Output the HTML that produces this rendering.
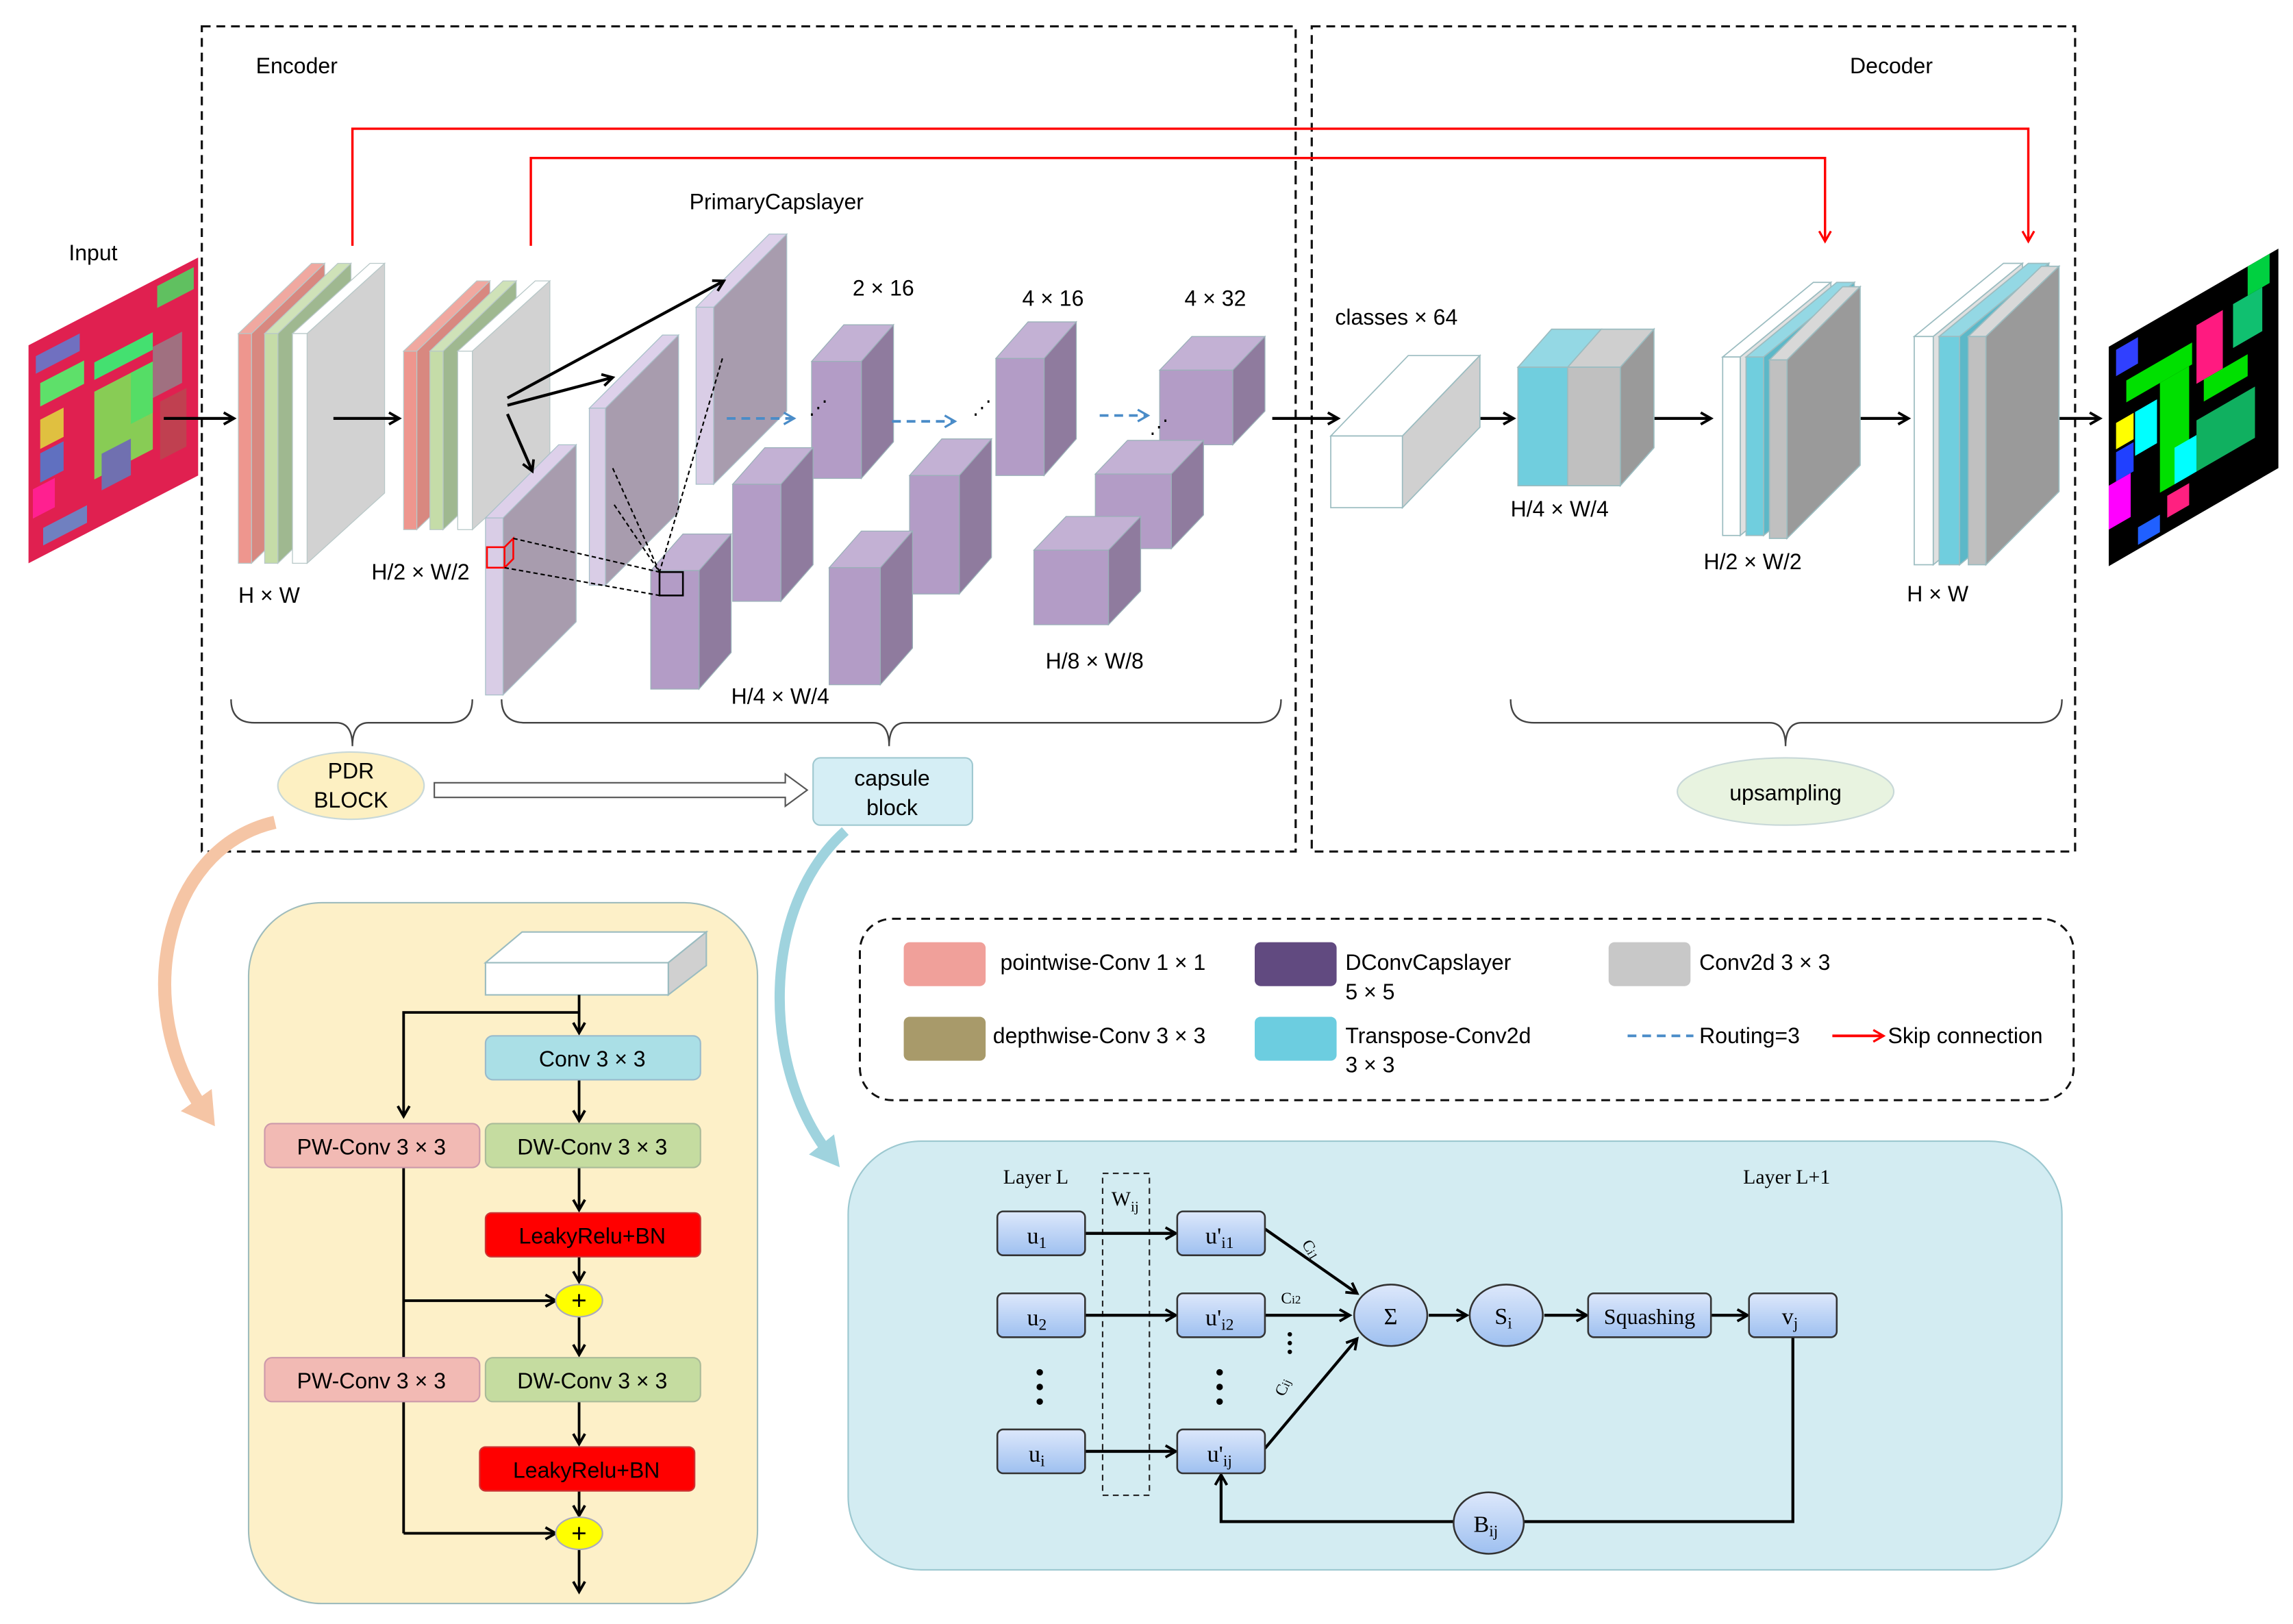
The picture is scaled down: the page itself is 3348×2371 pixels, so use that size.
<!DOCTYPE html>
<html><head><meta charset="utf-8"><style>html,body{margin:0;padding:0;background:#fff}svg{display:block}text{font-family:"Liberation Sans",sans-serif}.s{font-family:"Liberation Serif",serif}</style></head><body>
<svg width="3348" height="2371" viewBox="0 0 1568 1110" preserveAspectRatio="none" xmlns="http://www.w3.org/2000/svg">
<defs>
<marker id="ab" markerWidth="10" markerHeight="10" refX="8" refY="5" orient="auto" markerUnits="userSpaceOnUse"><path d="M1,1 L8,5 L1,9" fill="none" stroke="#000" stroke-width="1.8"/></marker>
<marker id="ar" markerWidth="10" markerHeight="12" refX="8" refY="5" orient="auto" markerUnits="userSpaceOnUse"><path d="M1,1 L8,5 L1,9" fill="none" stroke="#f00" stroke-width="1.5"/></marker>
<marker id="abl" markerWidth="10" markerHeight="10" refX="8" refY="5" orient="auto" markerUnits="userSpaceOnUse"><path d="M1,1 L8,5 L1,9" fill="none" stroke="#4a8cc8" stroke-width="1.5"/></marker>
<linearGradient id="bg" x1="0" y1="0" x2="0" y2="1"><stop offset="0" stop-color="#dde8fb"/><stop offset="1" stop-color="#9ec0f0"/></linearGradient>
<marker id="peach" markerWidth="30" markerHeight="30" refX="10" refY="15" orient="auto" markerUnits="userSpaceOnUse"><path d="M0,2 L22,15 L0,28 Z" fill="#f5c5a5"/></marker>
<marker id="teal" markerWidth="30" markerHeight="30" refX="10" refY="15" orient="auto" markerUnits="userSpaceOnUse"><path d="M0,4 L20,15 L0,26 Z" fill="#9fd3de"/></marker>
</defs>

<rect x="138" y="18" width="748" height="564" fill="none" stroke="#111" stroke-width="1.5" stroke-dasharray="6,4"/>
<rect x="897" y="18" width="522" height="564" fill="none" stroke="#111" stroke-width="1.5" stroke-dasharray="6,4"/>
<text x="175" y="50" font-size="15">Encoder</text>
<text x="1265" y="50" font-size="15">Decoder</text>
<text x="47" y="178" font-size="15">Input</text>

<g transform="matrix(1,-0.517,0,1,19.5,236)">
<rect x="0" y="0" width="116" height="149" fill="#e02050"/>
<rect x="8" y="30" width="30" height="16" fill="#5ee06a"/>
<rect x="45" y="35" width="40" height="12" fill="#44e070"/>
<rect x="45" y="55" width="40" height="60" fill="#88cc55"/>
<rect x="85" y="45" width="20" height="35" fill="#a07080"/>
<rect x="90" y="85" width="18" height="40" fill="#c04050"/>
<rect x="70" y="55" width="15" height="35" fill="#55dd66"/>
<rect x="8" y="55" width="16" height="20" fill="#e0c040"/>
<rect x="8" y="78" width="16" height="20" fill="#6070c0"/>
<rect x="5" y="10" width="30" height="12" fill="#7070c0"/>
<rect x="50" y="100" width="20" height="25" fill="#7070b0"/>
<rect x="3" y="100" width="15" height="20" fill="#ff2090"/>
<rect x="10" y="130" width="30" height="12" fill="#7080c0"/>
<rect x="88" y="5" width="25" height="15" fill="#60c060"/>
</g>
<g transform="matrix(1,-0.578,0,1,1442,237)">
<rect x="0" y="0" width="116" height="150" fill="#000"/>
<rect x="12" y="30" width="45" height="15" fill="#00e000"/>
<rect x="35" y="45" width="20" height="75" fill="#00e000"/>
<rect x="60" y="20" width="18" height="40" fill="#ff1a80"/>
<rect x="5" y="55" width="12" height="18" fill="#ffff00"/>
<rect x="18" y="55" width="15" height="30" fill="#00ffff"/>
<rect x="5" y="75" width="12" height="20" fill="#2040ff"/>
<rect x="0" y="95" width="15" height="30" fill="#ff00ff"/>
<rect x="65" y="60" width="30" height="15" fill="#00e000"/>
<rect x="60" y="85" width="40" height="35" fill="#10b060"/>
<rect x="85" y="20" width="20" height="30" fill="#10c070"/>
<rect x="95" y="0" width="15" height="20" fill="#00d040"/>
<rect x="5" y="5" width="15" height="18" fill="#3040ff"/>
<rect x="40" y="125" width="15" height="15" fill="#ff2080"/>
<rect x="20" y="135" width="15" height="12" fill="#2060ff"/>
<rect x="45" y="95" width="15" height="25" fill="#00ffff"/>
</g>

<polyline points="241,168 241,88 1387,88 1387,165" fill="none" stroke="#f00" stroke-width="1.6" marker-end="url(#ar)"/>
<polyline points="363,168 363,108 1248,108 1248,165" fill="none" stroke="#f00" stroke-width="1.6" marker-end="url(#ar)"/>

<g stroke="#b8c8c8" stroke-width="0.6">
<polygon points="172,228 222,180 222,337 172,385" fill="#d88880"/><polygon points="163,228 213,180 222,180 172,228" fill="#f0a8a0"/><rect x="163" y="228" width="9" height="157" fill="#ee968e"/>
<polygon points="190,228 240,180 240,337 190,385" fill="#9fb890"/><polygon points="181,228 231,180 240,180 190,228" fill="#cfe2b8"/><rect x="181" y="228" width="9" height="157" fill="#c5dca8"/>
<polygon points="210,228 263,180 263,337 210,385" fill="#d2d2d2"/><polygon points="200,228 253,180 263,180 210,228" fill="#fff"/><rect x="200" y="228" width="10" height="157" fill="#fff"/>
</g>
<g stroke="#b8c8c8" stroke-width="0.6">
<polygon points="285,240 335,192 335,314 285,362" fill="#d88880"/><polygon points="276,240 326,192 335,192 285,240" fill="#f0a8a0"/><rect x="276" y="240" width="9" height="122" fill="#ee968e"/>
<polygon points="303,240 353,192 353,314 303,362" fill="#9fb890"/><polygon points="294,240 344,192 353,192 303,240" fill="#cfe2b8"/><rect x="294" y="240" width="9" height="122" fill="#c5dca8"/>
<polygon points="323,240 376,192 376,314 323,362" fill="#d2d2d2"/><polygon points="313,240 366,192 376,192 323,240" fill="#fff"/><rect x="313" y="240" width="10" height="122" fill="#fff"/>
</g>
<text x="163" y="412" font-size="15">H × W</text>
<text x="254" y="396" font-size="15">H/2 × W/2</text>

<g stroke="#a8c0c8" stroke-width="0.6">
<polygon points="488,210 538,160 538,281 488,331" fill="#a89cae"/><polygon points="476,210 526,160 538,160 488,210" fill="#ddd0ea"/><rect x="476" y="210" width="12" height="121" fill="#d9cde6"/>
<polygon points="414,279 464,229 464,350 414,400" fill="#a89cae"/><polygon points="403,279 453,229 464,229 414,279" fill="#ddd0ea"/><rect x="403" y="279" width="11" height="121" fill="#d9cde6"/>
<polygon points="344,354 394,304 394,425 344,475" fill="#a89cae"/><polygon points="332,354 382,304 394,304 344,354" fill="#ddd0ea"/><rect x="332" y="354" width="12" height="121" fill="#d9cde6"/>
</g>
<text x="531" y="143" font-size="15" text-anchor="middle">PrimaryCapslayer</text>

<g stroke="#9ab0b8" stroke-width="0.6">
<polygon points="555,247 577,222 611,222 589,247" fill="#c3b1d4"/><polygon points="589,247 611,222 611,302 589,327" fill="#8f7b9e"/><rect x="555" y="247" width="34" height="80" fill="#b39cc6"/>
<polygon points="681,245 703,220 736,220 714,245" fill="#c3b1d4"/><polygon points="714,245 736,220 736,300 714,325" fill="#8f7b9e"/><rect x="681" y="245" width="33" height="80" fill="#b39cc6"/>
<polygon points="793,253 815,230 865,230 843,253" fill="#c3b1d4"/><polygon points="843,253 865,230 865,281 843,304" fill="#8f7b9e"/><rect x="793" y="253" width="50" height="51" fill="#b39cc6"/>
<polygon points="501,331 523,306 556,306 534,331" fill="#c3b1d4"/><polygon points="534,331 556,306 556,386 534,411" fill="#8f7b9e"/><rect x="501" y="331" width="33" height="80" fill="#b39cc6"/>
<polygon points="622,325 644,300 678,300 656,325" fill="#c3b1d4"/><polygon points="656,325 678,300 678,381 656,406" fill="#8f7b9e"/><rect x="622" y="325" width="34" height="81" fill="#b39cc6"/>
<polygon points="749,324 771,301 823,301 801,324" fill="#c3b1d4"/><polygon points="801,324 823,301 823,352 801,375" fill="#8f7b9e"/><rect x="749" y="324" width="52" height="51" fill="#b39cc6"/>
<polygon points="445,390 467,365 500,365 478,390" fill="#c3b1d4"/><polygon points="478,390 500,365 500,446 478,471" fill="#8f7b9e"/><rect x="445" y="390" width="33" height="81" fill="#b39cc6"/>
<polygon points="567,388 589,363 624,363 602,388" fill="#c3b1d4"/><polygon points="602,388 624,363 624,443 602,468" fill="#8f7b9e"/><rect x="567" y="388" width="35" height="80" fill="#b39cc6"/>
<polygon points="707,376 729,353 780,353 758,376" fill="#c3b1d4"/><polygon points="758,376 780,353 780,404 758,427" fill="#8f7b9e"/><rect x="707" y="376" width="51" height="51" fill="#b39cc6"/>
</g>
<rect x="333" y="374" width="12" height="14" fill="none" stroke="#f00" stroke-width="1.2"/>
<polyline points="345,374 351,368 351,382 345,388" fill="none" stroke="#f00" stroke-width="1.2"/>
<rect x="451" y="391" width="16" height="16" fill="none" stroke="#000" stroke-width="1.2"/>
<g stroke="#000" stroke-width="1" stroke-dasharray="3,2" fill="none">
<line x1="351" y1="368" x2="451" y2="391"/><line x1="345" y1="388" x2="451" y2="407"/>
<line x1="419" y1="320" x2="451" y2="391"/><line x1="420" y1="345" x2="451" y2="391"/>
<line x1="494" y1="245" x2="451" y2="391"/>
</g>
<g stroke="#000" stroke-width="2" fill="none" marker-end="url(#ab)">
<line x1="347" y1="272" x2="495" y2="192"/>
<line x1="347" y1="277" x2="419" y2="258"/>
<line x1="347" y1="283" x2="364" y2="322"/>
</g>
<g stroke="#4a8cc8" stroke-width="1.8" stroke-dasharray="6,4" fill="none" marker-end="url(#abl)">
<line x1="497" y1="286" x2="543" y2="286"/><line x1="610" y1="288" x2="653" y2="288"/><line x1="752" y1="284" x2="785" y2="284"/>
</g>
<text x="553" y="283" font-size="13">⋰</text><text x="665" y="283" font-size="13">⋰</text><text x="786" y="296" font-size="13">⋰</text>
<text x="583" y="202" font-size="15">2 × 16</text>
<text x="699" y="209" font-size="15">4 × 16</text>
<text x="810" y="209" font-size="15">4 × 32</text>
<text x="500" y="481" font-size="15">H/4 × W/4</text>
<text x="715" y="457" font-size="15">H/8 × W/8</text>

<g stroke="#000" stroke-width="2" fill="none" marker-end="url(#ab)">
<line x1="112" y1="286" x2="160" y2="286"/><line x1="228" y1="286" x2="273" y2="286"/>
<line x1="870" y1="286" x2="915" y2="286"/><line x1="990" y1="286" x2="1035" y2="286"/>
<line x1="1125" y1="286" x2="1170" y2="286"/><line x1="1260" y1="286" x2="1305" y2="286"/>
<line x1="1390" y1="286" x2="1436" y2="286"/>
</g>

<g stroke="#9bbcc0" stroke-width="0.8">
<polygon points="910,298 963,243 1012,243 959,298" fill="#fff"/><polygon points="959,298 1012,243 1012,292 959,347" fill="#d0d0d0"/><rect x="910" y="298" width="49" height="49" fill="#fff"/>
<polygon points="1038,251 1061,225 1095,225 1072,251" fill="#94d8e4"/><rect x="1038" y="251" width="34" height="81" fill="#70cede"/>
<polygon points="1072,251 1095,225 1131,225 1108,251" fill="#cfcfcf"/><polygon points="1108,251 1131,225 1131,306 1108,332" fill="#9a9a9a"/><rect x="1072" y="251" width="36" height="81" fill="#c0c0c0"/>
</g>
<text x="913" y="222" font-size="15">classes × 64</text>
<text x="1033" y="353" font-size="15">H/4 × W/4</text>
<g stroke="#9bbcc0" stroke-width="0.8">
<polygon points="1178,244 1240,193 1252,193 1190,244" fill="#fff"/><polygon points="1190,244 1252,193 1252,315 1190,366" fill="#e0e0e0"/><rect x="1178" y="244" width="12" height="122" fill="#fff"/>
<polygon points="1194,244 1256,193 1268,193 1206,244" fill="#94d8e4"/><polygon points="1206,244 1268,193 1268,315 1206,366" fill="#5cb8c8"/><rect x="1194" y="244" width="12" height="122" fill="#70cede"/>
<polygon points="1210,246 1260,196 1272,196 1222,246" fill="#d8d8d8"/><polygon points="1222,246 1272,196 1272,318 1222,368" fill="#9a9a9a"/><rect x="1210" y="246" width="12" height="122" fill="#c0c0c0"/>
</g>
<text x="1165" y="389" font-size="15">H/2 × W/2</text>
<g stroke="#9bbcc0" stroke-width="0.8">
<polygon points="1309,230 1370,180 1383,180 1322,230" fill="#fff"/><polygon points="1322,230 1383,180 1383,336 1322,386" fill="#e0e0e0"/><rect x="1309" y="230" width="13" height="156" fill="#fff"/>
<polygon points="1326,230 1387,180 1401,180 1340,230" fill="#94d8e4"/><polygon points="1340,230 1401,180 1401,336 1340,386" fill="#5cb8c8"/><rect x="1326" y="230" width="14" height="156" fill="#70cede"/>
<polygon points="1346,230 1396,182 1408,182 1358,230" fill="#d8d8d8"/><polygon points="1358,230 1408,182 1408,336 1358,386" fill="#9a9a9a"/><rect x="1346" y="230" width="12" height="156" fill="#c0c0c0"/>
</g>
<text x="1304" y="411" font-size="15">H × W</text>

<g stroke="#444" stroke-width="1.1" fill="none">
<path d="M158,478 Q158,494 174,494 L230,494 Q241,494 241,510 Q241,494 252,494 L307,494 Q323,494 323,478"/>
<path d="M343,478 Q343,494 359,494 L597,494 Q608,494 608,510 Q608,494 619,494 L860,494 Q876,494 876,478"/>
<path d="M1033,478 Q1033,494 1049,494 L1210,494 Q1221,494 1221,510 Q1221,494 1232,494 L1394,494 Q1410,494 1410,478"/>
</g>
<ellipse cx="240" cy="537" rx="50" ry="23" fill="#fdf0c2" stroke="#c8d8d8"/>
<text x="240" y="532" font-size="15" text-anchor="middle">PDR</text><text x="240" y="552" font-size="15" text-anchor="middle">BLOCK</text>
<rect x="556" y="518" width="109" height="46" rx="5" fill="#d5eef5" stroke="#9fc8d0"/>
<text x="610" y="537" font-size="15" text-anchor="middle">capsule</text><text x="610" y="557" font-size="15" text-anchor="middle">block</text>
<ellipse cx="1221" cy="541" rx="74" ry="23" fill="#e8f3e0" stroke="#c8d8d8"/>
<text x="1221" y="547" font-size="15" text-anchor="middle">upsampling</text>
<polygon points="297,535 537,535 537,529 552,540 537,551 537,545 297,545" fill="#fff" stroke="#555" stroke-width="1"/>

<path d="M188,562 C110,580 90,690 140,760" fill="none" stroke="#f5c5a5" stroke-width="9" marker-end="url(#peach)"/>
<path d="M578,568 C520,620 520,730 568,790" fill="none" stroke="#9fd3de" stroke-width="7" marker-end="url(#teal)"/>

<rect x="170" y="617" width="348" height="479" rx="50" fill="#fdf0c8" stroke="#9fbcbc"/>
<polygon points="332,658 357,637 483,637 457,658" fill="#fff" stroke="#9bbcc0"/>
<polygon points="457,658 483,637 483,660 457,680" fill="#d0d0d0" stroke="#9bbcc0"/>
<rect x="332" y="658" width="125" height="22" fill="#fff" stroke="#9bbcc0"/>
<g stroke="#000" stroke-width="1.8" fill="none">
<line x1="396" y1="680" x2="396" y2="706" marker-end="url(#ab)"/>
<polyline points="396,692 276,692 276,763" marker-end="url(#ab)"/>
<line x1="396" y1="738" x2="396" y2="766" marker-end="url(#ab)"/>
<line x1="396" y1="798" x2="396" y2="827" marker-end="url(#ab)"/>
<line x1="396" y1="859" x2="396" y2="876" marker-end="url(#ab)"/>
<line x1="276" y1="798" x2="276" y2="1048"/>
<line x1="276" y1="889" x2="380" y2="889" marker-end="url(#ab)"/>
<line x1="276" y1="1048" x2="380" y2="1048" marker-end="url(#ab)"/>
<line x1="396" y1="900" x2="396" y2="926" marker-end="url(#ab)"/>
<line x1="396" y1="958" x2="396" y2="987" marker-end="url(#ab)"/>
<line x1="396" y1="1019" x2="396" y2="1036" marker-end="url(#ab)"/>
<line x1="396" y1="1059" x2="396" y2="1088" marker-end="url(#ab)"/>
</g>
<rect x="332" y="708" width="147" height="30" rx="5" fill="#aadfe6" stroke="#9bc"/>
<text x="405" y="729" font-size="15" text-anchor="middle">Conv 3 × 3</text>
<rect x="181" y="768" width="147" height="30" rx="5" fill="#f2bab4" stroke="#c9a"/>
<text x="254" y="789" font-size="15" text-anchor="middle">PW-Conv 3 × 3</text>
<rect x="332" y="768" width="147" height="30" rx="5" fill="#c5dca0" stroke="#ab9"/>
<text x="405" y="789" font-size="15" text-anchor="middle">DW-Conv 3 × 3</text>
<rect x="332" y="829" width="147" height="30" rx="4" fill="#ff0000" stroke="#c33"/>
<text x="405" y="850" font-size="15" text-anchor="middle">LeakyRelu+BN</text>
<ellipse cx="396" cy="889" rx="16" ry="11" fill="#ffff00" stroke="#aab"/>
<text x="396" y="895" font-size="18" text-anchor="middle">+</text>
<rect x="181" y="928" width="147" height="30" rx="5" fill="#f2bab4" stroke="#c9a"/>
<text x="254" y="949" font-size="15" text-anchor="middle">PW-Conv 3 × 3</text>
<rect x="332" y="928" width="147" height="30" rx="5" fill="#c5dca0" stroke="#ab9"/>
<text x="405" y="949" font-size="15" text-anchor="middle">DW-Conv 3 × 3</text>
<rect x="328" y="989" width="147" height="30" rx="4" fill="#ff0000" stroke="#c33"/>
<text x="401" y="1010" font-size="15" text-anchor="middle">LeakyRelu+BN</text>
<ellipse cx="396" cy="1048" rx="16" ry="11" fill="#ffff00" stroke="#aab"/>
<text x="396" y="1054" font-size="18" text-anchor="middle">+</text>

<rect x="588" y="628" width="830" height="124" rx="22" fill="none" stroke="#111" stroke-width="1.4" stroke-dasharray="6,4"/>
<rect x="618" y="644" width="56" height="30" rx="4" fill="#f0a09a"/>
<text x="684" y="663" font-size="15">pointwise-Conv 1 × 1</text>
<rect x="858" y="644" width="56" height="30" rx="4" fill="#614a80"/>
<text x="920" y="663" font-size="15">DConvCapslayer</text><text x="920" y="683" font-size="15">5 × 5</text>
<rect x="1100" y="644" width="56" height="30" rx="4" fill="#c8c8c8"/>
<text x="1162" y="663" font-size="15">Conv2d 3 × 3</text>
<rect x="618" y="695" width="56" height="30" rx="4" fill="#a89a6a"/>
<text x="679" y="713" font-size="15">depthwise-Conv 3 × 3</text>
<rect x="858" y="695" width="56" height="30" rx="4" fill="#6ccde0"/>
<text x="920" y="713" font-size="15">Transpose-Conv2d</text><text x="920" y="733" font-size="15">3 × 3</text>
<line x1="1113" y1="708" x2="1158" y2="708" stroke="#4a8cc8" stroke-width="1.8" stroke-dasharray="6,4"/>
<text x="1162" y="713" font-size="15">Routing=3</text>
<line x1="1253" y1="708" x2="1288" y2="708" stroke="#f00" stroke-width="1.8" marker-end="url(#ar)"/>
<text x="1291" y="713" font-size="15">Skip connection</text>

<rect x="580" y="780" width="830" height="293" rx="50" fill="#d3ecf2" stroke="#9cc8d0"/>
<text x="686" y="809" font-size="14" class="s">Layer L</text>
<text x="1192" y="809" font-size="14" class="s">Layer L+1</text>
<rect x="754" y="802" width="32" height="220" fill="none" stroke="#222" stroke-dasharray="4,3"/>
<text x="760" y="824" font-size="14" class="s">W<tspan font-size="10" dy="4">ij</tspan></text>
<g stroke="#000" stroke-width="2" fill="none" marker-end="url(#ab)">
<line x1="742" y1="843" x2="804" y2="843"/><line x1="742" y1="899" x2="804" y2="899"/><line x1="742" y1="992" x2="804" y2="992"/>
<line x1="865" y1="840" x2="928" y2="884"/><line x1="865" y1="899" x2="923" y2="899"/><line x1="865" y1="990" x2="928" y2="915"/>
<line x1="977" y1="899" x2="1003" y2="899"/><line x1="1056" y1="899" x2="1085" y2="899"/><line x1="1170" y1="899" x2="1195" y2="899"/>
</g>
<g stroke="#000" stroke-width="2" fill="none">
<polyline points="1226,913 1226,1040 1042,1040"/>
<polyline points="994,1040 835,1040 835,1008" marker-end="url(#ab)"/>
</g>
<g fill="url(#bg)" stroke="#333" stroke-width="1.2">
<rect x="682" y="828" width="60" height="30" rx="4"/><rect x="682" y="884" width="60" height="30" rx="4"/><rect x="682" y="977" width="60" height="30" rx="4"/>
<rect x="805" y="828" width="60" height="30" rx="4"/><rect x="805" y="884" width="60" height="30" rx="4"/><rect x="805" y="977" width="60" height="30" rx="4"/>
<ellipse cx="951" cy="899" rx="25" ry="21"/><ellipse cx="1030" cy="899" rx="25" ry="21"/>
<rect x="1086" y="884" width="84" height="30" rx="4"/><rect x="1196" y="884" width="60" height="30" rx="4"/>
<ellipse cx="1018" cy="1041" rx="24" ry="21"/>
</g>
<g class="s" font-size="16" text-anchor="middle">
<text x="709" y="850" class="s">u<tspan font-size="11" dy="3">1</tspan></text>
<text x="709" y="906" class="s">u<tspan font-size="11" dy="3">2</tspan></text>
<text x="709" y="999" class="s">u<tspan font-size="11" dy="3">i</tspan></text>
<text x="834" y="850" class="s">u'<tspan font-size="11" dy="3">i1</tspan></text>
<text x="834" y="906" class="s">u'<tspan font-size="11" dy="3">i2</tspan></text>
<text x="834" y="999" class="s">u'<tspan font-size="11" dy="3">ij</tspan></text>
<text x="951" y="905" class="s">Σ</text>
<text x="1028" y="905" class="s">S<tspan font-size="11" dy="3">i</tspan></text>
<text x="1128" y="905" class="s" font-size="15">Squashing</text>
<text x="1224" y="905" class="s">v<tspan font-size="11" dy="3">j</tspan></text>
<text x="1016" y="1047" class="s">B<tspan font-size="11" dy="3">ij</tspan></text>
</g>
<text x="890" y="850" font-size="11" class="s" transform="rotate(60 890 850)">C<tspan font-size="8">i1</tspan></text>
<text x="876" y="891" font-size="11" class="s">C<tspan font-size="8">i2</tspan></text>
<text x="878" y="955" font-size="11" class="s" transform="rotate(-65 878 955)">C<tspan font-size="8">ij</tspan></text>
<g fill="#000">
<circle cx="711" cy="938" r="2.2"/><circle cx="711" cy="948" r="2.2"/><circle cx="711" cy="958" r="2.2"/>
<circle cx="834" cy="938" r="2.2"/><circle cx="834" cy="948" r="2.2"/><circle cx="834" cy="958" r="2.2"/>
<circle cx="882" cy="912" r="1.5"/><circle cx="882" cy="918" r="1.5"/><circle cx="882" cy="924" r="1.5"/>
</g>
</svg>
</body></html>
